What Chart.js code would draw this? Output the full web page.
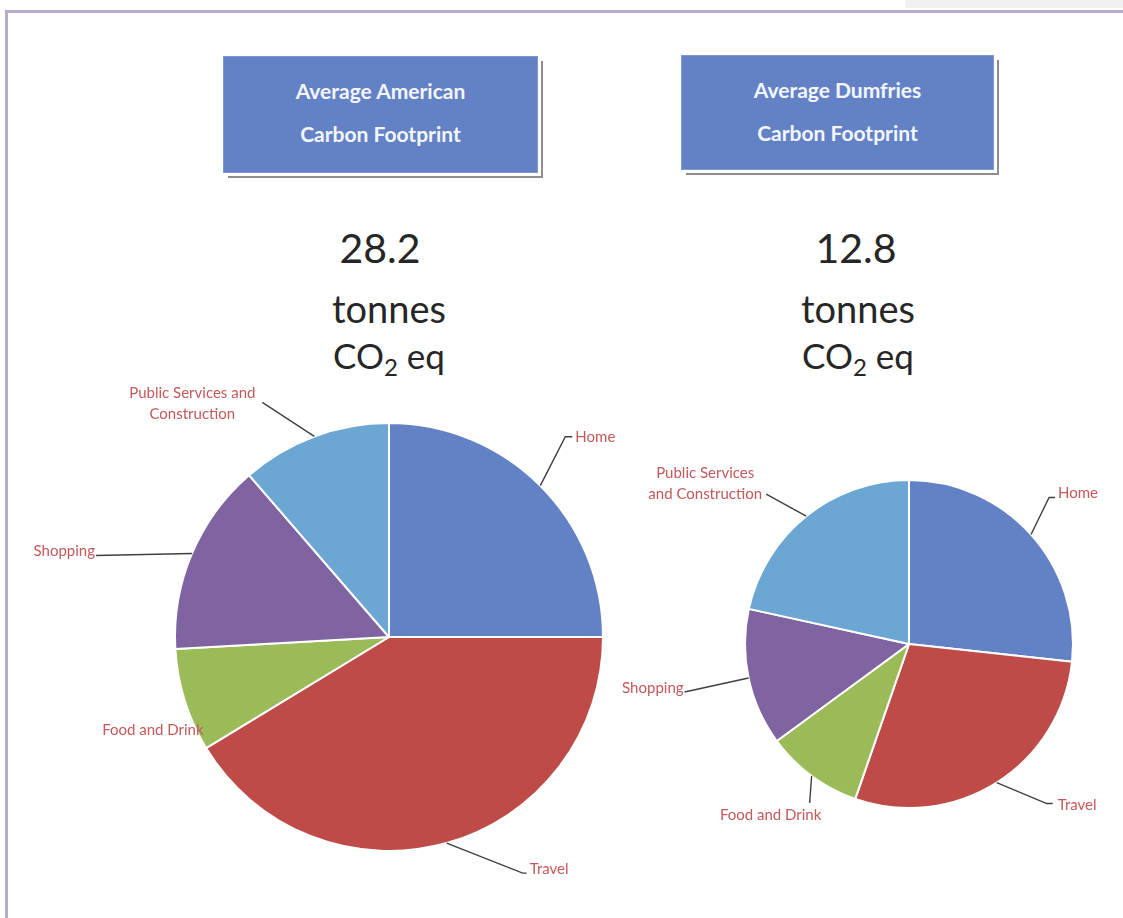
<!DOCTYPE html>
<html><head><meta charset="utf-8">
<script src="https://cdn.jsdelivr.net/npm/chart.js@4.4.0/dist/chart.umd.min.js"></script>
<style>
html,body{margin:0;padding:0;background:#fff;}
#page{position:relative;width:1123px;height:918px;overflow:hidden;font-family:Lato,"Open Sans",sans-serif;background:#fff;}
.frame{position:absolute;left:5px;top:10px;width:1200px;height:1000px;border-left:3px solid #B9A9CE;border-top:3px solid #B9A9CE;}
.topgrey{position:absolute;left:905px;top:0;width:218px;height:8px;background:#F1F1F1;}
.hbox{position:absolute;background:#6382C6;color:#F4F6FC;font-weight:bold;font-size:21px;text-align:center;
  border:1px solid #7E97D0;box-shadow:3px 3px 0 #fff,5px 5px 0 #8E8E8E;}
.hbox div{position:absolute;left:0;width:100%;line-height:22px;}
.big{position:absolute;width:240px;text-align:center;line-height:42px;color:#262626;}
.big sub{font-size:24px;vertical-align:-7px;line-height:0;}
canvas{position:absolute;left:0;top:0;}
</style></head>
<body><div id="page">
<div class="topgrey"></div>
<div class="frame"></div>
<div id="boxes"></div>
<div id="bigs"></div>
<canvas id="c1" width="1123" height="918"></canvas>
<canvas id="c2" width="1123" height="918"></canvas>
</div>
<script>
// ---- data ----
const categories = ['Home','Travel','Food and Drink','Shopping','Public Services and Construction'];
const americanLabels = ['Home','Travel','Food and Drink','Shopping','Public Services and\nConstruction'];
const dumfriesLabels = ['Home','Travel','Food and Drink','Shopping','Public Services\nand Construction'];
const americanValues = [7.05, 11.65, 2.2, 4.1, 3.2];   // tonnes CO2 eq, total 28.2
const dumfriesValues = [3.42, 3.66, 1.23, 1.73, 2.76]; // tonnes CO2 eq, total 12.8
const totals = ['28.2','12.8'];
const boxTitles = [['Average American','Carbon Footprint'],['Average Dumfries','Carbon Footprint']];
const sliceColors = ['#6382C6','#BE4B48','#9BBB59','#8064A2','#6CA6D3'];

// ---- header boxes & big texts ----
const boxGeo = [{l:223,t:56,w:313,h:115,y1:23,y2:66},{l:681,t:55,w:311,h:113,y1:23,y2:66}];
const boxes = document.getElementById('boxes');
boxGeo.forEach((g,i)=>{
  const d=document.createElement('div');d.className='hbox';
  d.style.cssText+=`left:${g.l}px;top:${g.t}px;width:${g.w}px;height:${g.h}px;`;
  d.innerHTML=`<div style="top:${g.y1}px">${boxTitles[i][0]}</div><div style="top:${g.y2}px">${boxTitles[i][1]}</div>`;
  boxes.appendChild(d);
});
const bigGeo=[{c1:380,c2:389},{c1:856,c2:858}];
const bigs=document.getElementById('bigs');
bigGeo.forEach((g,i)=>{
  bigs.innerHTML+=`<div class="big" style="left:${g.c1-120}px;top:227px;font-size:41px">${totals[i]}</div>`+
   `<div class="big" style="left:${g.c2-120}px;top:287px;font-size:38px">tonnes</div>`+
   `<div class="big" style="left:${g.c2-120}px;top:334px;font-size:35px">CO<sub>2</sub> eq</div>`;
});

// ---- leader-line label plugin ----
const leaderPlugin={
  id:'leaders',
  afterDatasetsDraw(chart,args,opts){
    const ctx=chart.ctx, meta=chart.getDatasetMeta(0), labels=opts.labels;
    meta.data.forEach((arc,i)=>{
      const p=arc.getProps(['x','y','startAngle','endAngle','outerRadius'],true);
      const mid=(p.startAngle+p.endAngle)/2;
      const sx=p.x+Math.cos(mid)*p.outerRadius, sy=p.y+Math.sin(mid)*p.outerRadius;
      const o=opts.place[i];
      const ex=sx+o.ex, ey=sy+o.ey, hx=o.hx||0;
      ctx.save();
      if(o.line!==false){
        ctx.strokeStyle='#3F3F3F';ctx.lineWidth=1.4;ctx.beginPath();
        ctx.moveTo(sx,sy);ctx.lineTo(ex,ey);if(hx)ctx.lineTo(ex+hx,ey);ctx.stroke();
      }
      ctx.fillStyle='#C4585A';ctx.font='15px Lato';ctx.textAlign=o.align;ctx.textBaseline='middle';
      const lines=labels[i].split('\n');
      lines.forEach((ln,k)=>ctx.fillText(ln,ex+hx+o.tx,ey+o.ty+k*21));
      ctx.restore();
    });
  }
};

function makePie(id,values,labels,pad,radius,place){
  new Chart(document.getElementById(id),{
    type:'pie',
    data:{labels:categories,datasets:[{data:values,backgroundColor:sliceColors,borderColor:'#FFFFFF',borderWidth:2}]},
    options:{responsive:false,animation:false,radius:radius,
      layout:{padding:pad},
      plugins:{legend:{display:false},tooltip:{enabled:false},leaders:{labels:labels,place:place}}},
    plugins:[leaderPlugin]
  });
}
makePie('c1',americanValues,americanLabels,{left:176,right:521,top:424,bottom:68},214,[
  {ex:25,ey:-49,hx:7,tx:3,ty:0,align:'left'},
  {ex:76,ey:30,hx:4,tx:3,ty:-4,align:'left'},
  {ex:19,ey:30,line:false,tx:0,ty:0,align:'right'},
  {ex:-96,ey:2,tx:-1,ty:-4,align:'right'},
  {ex:-52,ey:-34,tx:-70,ty:-9,align:'center'}
]);
makePie('c2',dumfriesValues,dumfriesLabels,{left:745,right:50,top:480,bottom:110},164,[
  {ex:18,ey:-37,hx:6,tx:3,ty:-4,align:'left'},
  {ex:50,ey:21,hx:6,tx:5,ty:2,align:'left'},
  {ex:-2,ey:27,tx:-39,ty:12,align:'center'},
  {ex:-64,ey:14,tx:-1,ty:-4,align:'right'},
  {ex:-40,ey:-22,tx:-61,ty:-21,align:'center'}
]);
</script>
</body></html>
